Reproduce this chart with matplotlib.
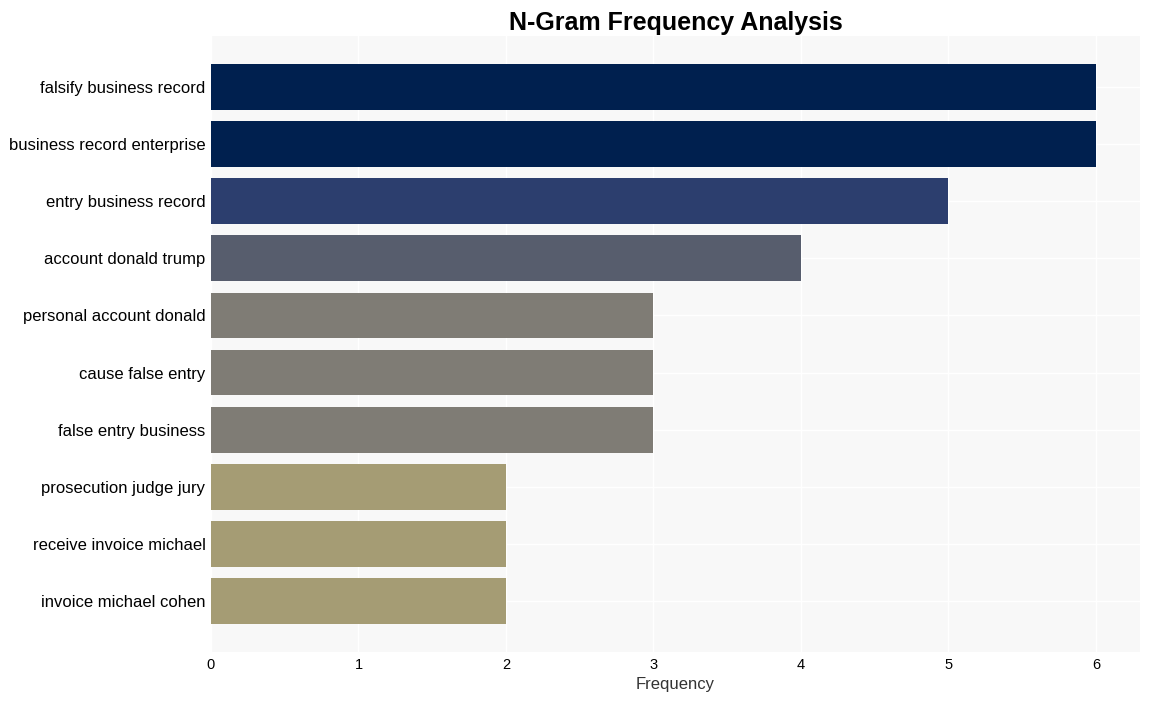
import matplotlib
matplotlib.use("Agg")
import matplotlib.pyplot as plt

plt.rcParams["font.family"] = ["Liberation Sans", "DejaVu Sans"]

# data, top to bottom
ngrams = [
    "falsify business record",
    "business record enterprise",
    "entry business record",
    "account donald trump",
    "personal account donald",
    "cause false entry",
    "false entry business",
    "prosecution judge jury",
    "receive invoice michael",
    "invoice michael cohen",
]
counts = [6, 6, 5, 4, 3, 3, 3, 2, 2, 2]

COLOR_BY_COUNT = {
    6: "#00204f",
    5: "#2c3e6e",
    4: "#575d6d",
    3: "#7f7c75",
    2: "#a59c74",
}


def main():
    fig = plt.figure(figsize=(11.51, 7.01), dpi=100)
    ax = fig.add_axes([0.1833, 0.0699, 0.8072, 0.8787])
    ax.set_facecolor("#f8f8f8")

    positions = list(range(len(ngrams)))
    colors = [COLOR_BY_COUNT[c] for c in counts]
    ax.barh(positions, counts, height=0.8, color=colors, zorder=2)

    ax.set_yticks(positions)
    ax.set_yticklabels(ngrams, fontsize=12)
    ax.invert_yaxis()
    ax.set_xlim(0, 6.3)
    ax.set_xticks(range(0, 7))
    ax.tick_params(axis="x", labelsize=10.5)
    ax.tick_params(length=0, pad=4)

    ax.grid(True, color="white", linewidth=1, zorder=1)
    ax.set_axisbelow(True)
    for spine in ax.spines.values():
        spine.set_visible(False)

    ax.set_xlabel("Frequency", fontsize=12, color="#333333")
    ax.set_title("N-Gram Frequency Analysis", fontsize=18, fontweight="bold", pad=4)

    fig.savefig("out.png", dpi=100)
    plt.close(fig)


if __name__ == "__main__":
    main()
